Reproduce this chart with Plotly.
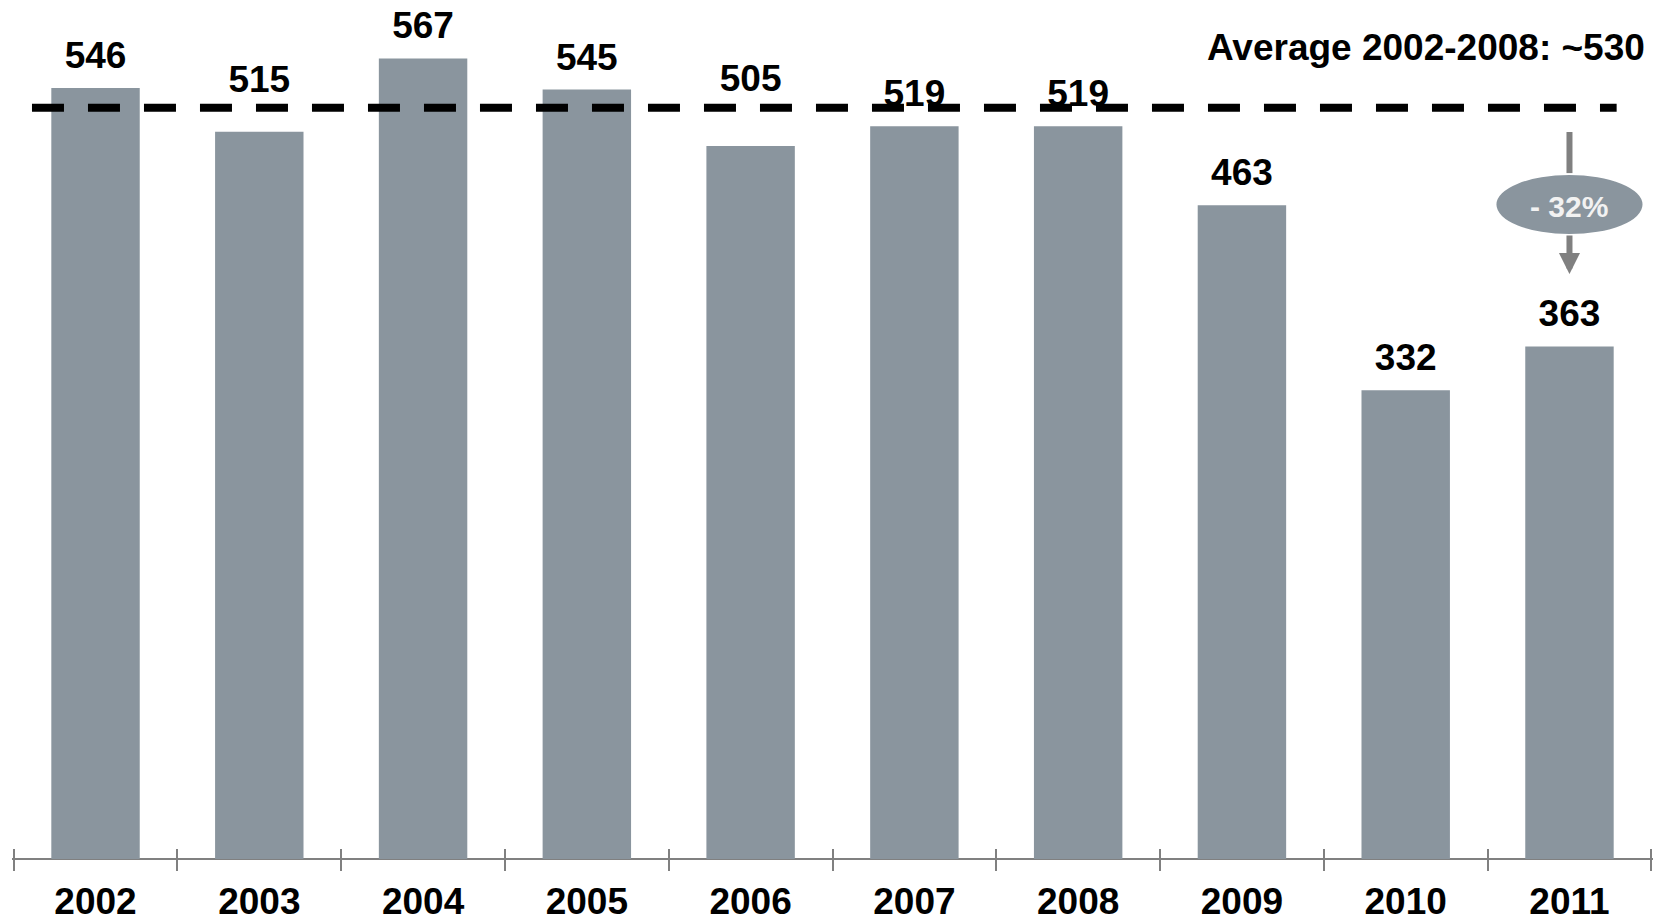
import plotly.graph_objects as go

years = ["2002", "2003", "2004", "2005", "2006", "2007", "2008", "2009", "2010", "2011"]
values = [546, 515, 567, 545, 505, 519, 519, 463, 332, 363]
average_value = 532
average_label = "Average 2002-2008: ~530"
change_label = "- 32%"

BAR = "#8A959E"
GRAY = "#808080"
FONT = "Liberation Sans"
LABEL_SIZE = 37

# gap (px) between label baseline and bar top; two labels are lifted above the dashed line
label_gap = {y: 20 for y in years}
label_gap["2003"] = 40.3
label_gap["2006"] = 55.3


def marker_size_for_gap(gap):
    r = gap - 0.25 * LABEL_SIZE
    return 2 * 0.8 * (r - 1)


fig = go.Figure()
fig.add_trace(go.Bar(
    x=years, y=values, marker=dict(color=BAR, line=dict(width=0)),
    hoverinfo="skip", showlegend=False,
))
fig.add_trace(go.Scatter(
    x=years, y=values, mode="markers+text",
    text=[str(v) for v in values], textposition="top center",
    marker=dict(size=[marker_size_for_gap(label_gap[y]) for y in years],
                color="rgba(0,0,0,0)", line=dict(width=0, color="rgba(0,0,0,0)")),
    textfont=dict(family=FONT, size=LABEL_SIZE, color="#000000", weight="bold"),
    hoverinfo="skip", showlegend=False,
))

last = len(years) - 1
# dashed average line (above the labels)
fig.add_shape(type="line", xref="x", yref="y", x0=-0.388, x1=last + 0.288,
              y0=average_value, y1=average_value, layer="above",
              line=dict(color="#000000", width=8, dash="32px,24px"))
# arrow upper segment
fig.add_shape(type="line", xref="x", yref="y", x0=last, x1=last, y0=514.9, y1=485.8,
              layer="above", line=dict(color=GRAY, width=6))
# ellipse
fig.add_shape(type="circle", xref="x", yref="y", x0=last - 0.446, x1=last + 0.446,
              y0=442.6, y1=484.4, layer="above", fillcolor=BAR, line=dict(width=0))

fig.add_annotation(x=last, y=414.3, xref="x", yref="y", text="",
                   showarrow=True, axref="x", ax=last, ayref="y", ay=442.6,
                   arrowhead=2, arrowsize=0.7, arrowwidth=6, arrowcolor=GRAY, standoff=0)
fig.add_annotation(x=last, y=462, xref="x", yref="y", text=change_label,
                   showarrow=False, yanchor="middle",
                   font=dict(family=FONT, size=30, color="#F2F2F2", weight="bold"))
fig.add_annotation(x=1, y=1, xref="paper", yref="paper", text=average_label,
                   showarrow=False, xanchor="right", yanchor="middle", xshift=-6, yshift=-47,
                   font=dict(family=FONT, size=LABEL_SIZE, color="#000000", weight="bold"))

fig.update_layout(
    width=1654, height=922,
    margin=dict(l=12, r=1, t=0, b=51, autoexpand=False),
    paper_bgcolor="white", plot_bgcolor="white",
    bargap=0.46,
    xaxis=dict(type="category", tickson="boundaries", ticks="inside", ticklen=22,
               tickwidth=2, tickcolor=GRAY, showline=False, showgrid=False,
               ticklabelstandoff=5, automargin=False,
               tickfont=dict(family=FONT, size=LABEL_SIZE, color="#000000", weight="bold"),
               range=[-0.51, last + 0.51]),
    yaxis=dict(range=[-8.5, 608.4], showgrid=False, showticklabels=False, ticks="",
               automargin=False,
               zeroline=True, zerolinecolor=GRAY, zerolinewidth=2, showline=False),
)

fig.write_html("out.html")
